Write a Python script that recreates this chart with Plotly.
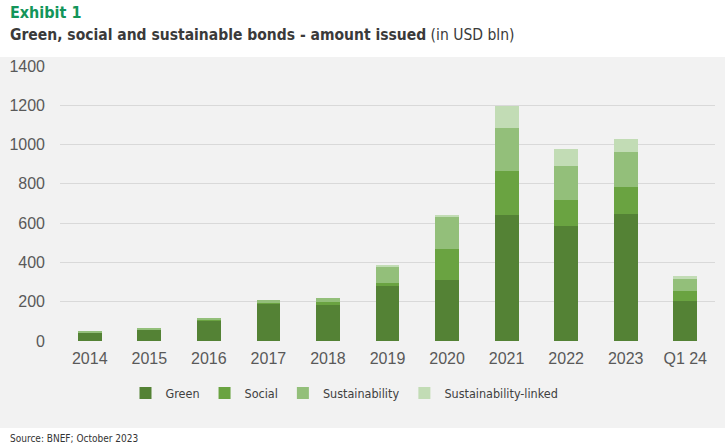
import plotly.graph_objects as go

# Data (USD bln)
years = ['2014', '2015', '2016', '2017', '2018', '2019', '2020', '2021', '2022', '2023', 'Q1 24']
green = [44, 56, 106, 190, 183, 280, 311, 643, 584, 645, 203]
social = [1, 2, 3, 6, 14, 17, 155, 222, 136, 141, 52]
sustainability = [1, 5, 6, 11, 23, 84, 169, 221, 172, 174, 63]
sustainability_linked = [0, 0, 0, 0, 0, 4, 3, 111, 88, 66, 14]

series = [
    ('Green', green, '#548235'),
    ('Social', social, '#6aa341'),
    ('Sustainability', sustainability, '#93bf7a'),
    ('Sustainability-linked', sustainability_linked, '#c2dcb5'),
]

NARROW = 'DejaVu Sans Condensed, Liberation Sans Narrow, Liberation Sans'

fig = go.Figure()
for name, vals, color in series:
    fig.add_trace(go.Bar(
        x=years, y=vals, name=name,
        marker=dict(color=color, line=dict(width=0)),
    ))

# grey chart panel behind everything
fig.add_shape(type='rect', xref='paper', yref='paper',
              x0=-0.095, x1=1.02, y0=-0.316, y1=1.033,
              fillcolor='#f2f2f2', line=dict(width=0), layer='below')

fig.add_annotation(text='<b>Exhibit 1</b>', xref='paper', yref='paper',
                   x=-0.08, y=1.196, xanchor='left', yanchor='middle', showarrow=False,
                   font=dict(family=NARROW, size=16, color='#13955a'))
fig.add_annotation(text='<b>Green, social and sustainable bonds - amount issued</b> (in USD bln)',
                   xref='paper', yref='paper',
                   x=-0.08, y=1.113, xanchor='left', yanchor='middle', showarrow=False,
                   font=dict(family=NARROW, size=15.5, color='#3a3a3a'))
fig.add_annotation(text='Source: BNEF; October 2023', xref='paper', yref='paper',
                   x=-0.08, y=-0.353, xanchor='left', yanchor='middle', showarrow=False,
                   font=dict(family=NARROW, size=10, color='#333333'))

fig.update_layout(
    width=725, height=447,
    margin=dict(l=60, r=10, t=66, b=106),
    paper_bgcolor='white',
    plot_bgcolor='rgba(0,0,0,0)',
    barmode='stack',
    bargap=0.6,
    font=dict(family='Liberation Sans, Arial', color='#595959'),
    xaxis=dict(tickfont=dict(size=16, color='#595959'), showline=False, ticks='',
               ticklabelstandoff=6),
    yaxis=dict(range=[0, 1400], dtick=200, tickfont=dict(size=16, color='#595959'),
               gridcolor='#d9d9d9', gridwidth=1, zeroline=False, ticks='',
               ticklabelstandoff=14),
    legend=dict(orientation='h', x=0.1, xanchor='left', y=-0.19, yanchor='middle',
                font=dict(family=NARROW, size=12.5, color='#404040'),
                bgcolor='rgba(0,0,0,0)', itemwidth=30, traceorder='normal'),
    showlegend=True,
)

# drop the page's default body margin so the figure sits at the window's corner
fig.write_html('out.html', config={'displayModeBar': False},
               post_script="document.body.style.margin='0';")
